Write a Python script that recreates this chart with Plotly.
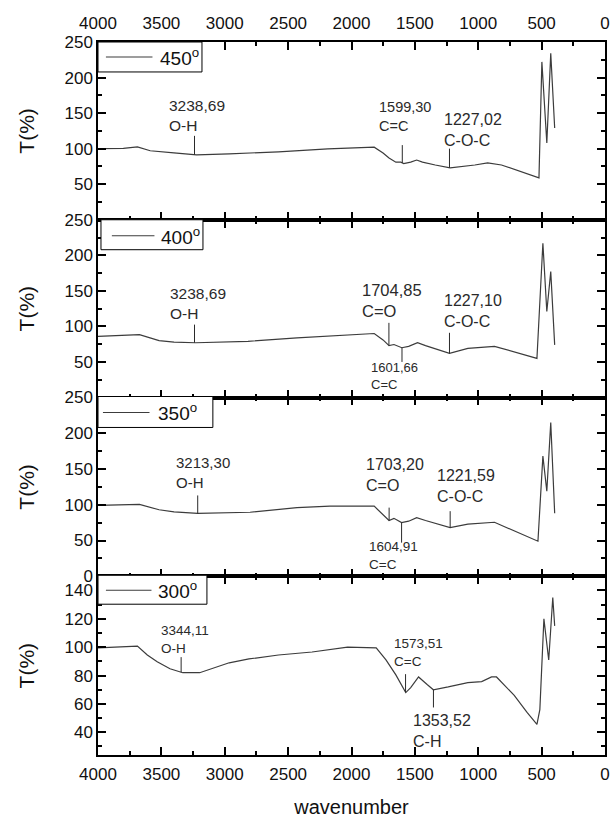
import numpy as np
import plotly.graph_objects as go

# ---------------- data ----------------
temps = ["450", "400", "350", "300"]

wn_450 = [4000, 3800, 3689, 3588, 3401, 3222, 2965, 2576, 2187, 1961, 1821, 1751, 1704, 1650,
          1611, 1588, 1533, 1486, 1440, 1339, 1222, 1027, 926, 817, 521, 498, 459, 428, 397]
t_450 = [100, 100.5, 102.5, 97, 94, 91.3, 92.7, 95.5, 99.7, 101, 102, 94, 87, 81,
         81, 79, 81, 84, 81, 77, 73, 77, 80, 77, 59, 222, 108, 234, 129]

wn_400 = [4000, 3850, 3673, 3518, 3400, 3230, 2817, 2430, 2170, 1821, 1751, 1704, 1665, 1603,
          1549, 1479, 1416, 1227, 1082, 872, 537, 490, 459, 428, 397]
t_400 = [86, 87, 88.5, 80, 78, 77, 79, 84, 87, 90, 81, 73, 74.5, 70,
         72, 77, 73, 62, 69, 72, 55, 217, 121, 177, 74]

wn_350 = [4000, 3850, 3673, 3518, 3400, 3213, 2800, 2430, 2170, 1821, 1743, 1704, 1665, 1605,
          1549, 1486, 1416, 1222, 1082, 872, 529, 490, 459, 428, 397]
t_350 = [99, 99.5, 100.5, 93, 90, 88, 89.5, 96, 98, 98, 85, 78, 81, 75,
         77, 82, 78, 68, 73, 75.5, 49, 168, 119, 215, 88]

wn_300 = [4000, 3907, 3689, 3611, 3533, 3432, 3331, 3198, 3090, 2965, 2809, 2576, 2311, 2031,
          1805, 1728, 1650, 1572, 1533, 1471, 1401, 1354, 1237, 1082, 973, 895, 856, 716, 615,
          537, 514, 482, 444, 412, 397]
t_300 = [99.5, 100, 100.8, 94.5, 89.7, 84.8, 82, 82, 85.5, 89, 91.7, 94.5, 96.6, 100,
         99.5, 91, 80.5, 68, 71.5, 79, 73.5, 70, 72, 75, 75.7, 79, 79, 66, 54,
         45.6, 56, 120, 91, 135, 115]

wavenumbers = [wn_450, wn_400, wn_350, wn_300]
transmittance = [t_450, t_400, t_350, t_300]

peak_wn = [[3238.69, 1599.30, 1227.02],
           [3238.69, 1704.85, 1601.66, 1227.10],
           [3213.30, 1703.20, 1604.91, 1221.59],
           [3344.11, 1573.51, 1353.52]]
peak_num = [["3238,69", "1599,30", "1227,02"],
            ["3238,69", "1704,85", "1601,66", "1227,10"],
            ["3213,30", "1703,20", "1604,91", "1221,59"],
            ["3344,11", "1573,51", "1353,52"]]
peak_group = [["O-H", "C=C", "C-O-C"],
              ["O-H", "C=O", "C=C", "C-O-C"],
              ["O-H", "C=O", "C=C", "C-O-C"],
              ["O-H", "C=C", "C-H"]]

x_ticks = [4000, 3500, 3000, 2500, 2000, 1500, 1000, 500, 0]

# ---------------- styling / placement ----------------
FONT = "Arial, Liberation Sans, sans-serif"
CURVE = "#3c3c3c"
TXT = "#2a2a2a"

marker_end = [[118, 105, 100], [102.5, 105, 50, 91], [113, 96, 47, 91], [93, 81, 57.5]]
label_y = [[118, 118, 97], [104, 106.7, 56, 92.7], [116, 111.7, 54.5, 96.4], [92.4, 83.4, 56]]
label_side = [["bottom", "bottom", "bottom"], ["bottom", "bottom", "top", "bottom"],
              ["bottom", "bottom", "top", "bottom"], ["bottom", "bottom", "top"]]
label_shift = [[-28, -25, -7], [-27, -29, -33, -7], [-24, -25, -35, -15], [-22, -14, -22]]
label_size = [[15.5, 14.5, 16], [15.5, 16.5, 13, 16], [15, 16, 13.5, 16], [13.5, 13.5, 16]]

domains = [[0.7507, 1.0], [0.5014, 0.7507], [0.2507, 0.5014], [0.0, 0.2507]]
y_ranges = [[0, 250], [0, 250], [0, 250], [24, 150]]
y_ticks = [[50, 100, 150, 200, 250], [50, 100, 150, 200, 250],
           [0, 50, 100, 150, 200, 250], [40, 60, 80, 100, 120, 140]]
y_minor = [25, 25, 25, 10]

M_L, M_R, M_T, M_B, W, H = 98, 6, 42, 65, 616, 821
PW, PH = W - M_L - M_R, H - M_T - M_B
leg_box = [(98, 42, 203, 72), (101, 220, 204, 250), (98, 397, 214, 428), (98, 576, 208, 605)]
leg_line = [(106, 153, 57), (112, 155, 236), (103, 150, 413), (106, 152, 591)]
leg_text_x = [159, 160, 157, 157]


def px(x):
    return (x - M_L) / PW


def py(y):
    return (H - M_B - y) / PH


fig = go.Figure()

for i in range(4):
    xa = "x" if i == 0 else f"x{i+1}"
    ya = "y" if i == 0 else f"y{i+1}"
    fig.add_trace(go.Scatter(
        x=wavenumbers[i], y=transmittance[i], mode="lines",
        name=f"{temps[i]}°", line=dict(color=CURVE, width=1.2),
        xaxis=xa, yaxis=ya, showlegend=False, hoverinfo="skip"))
    wn_sorted = np.array(wavenumbers[i])[::-1]
    t_sorted = np.array(transmittance[i])[::-1]
    for j, p in enumerate(peak_wn[i]):
        base = float(np.interp(p, wn_sorted, t_sorted))
        fig.add_shape(type="line", xref=xa, yref=ya, x0=p, x1=p, y0=base, y1=marker_end[i][j],
                      line=dict(color=TXT, width=1))
        fig.add_annotation(xref=xa, yref=ya, x=p, y=label_y[i][j],
                           text=f"{peak_num[i][j]}<br>{peak_group[i][j]}",
                           showarrow=False, xanchor="left", yanchor=label_side[i][j],
                           xshift=label_shift[i][j], yshift=0, align="left",
                           font=dict(family=FONT, size=label_size[i][j], color=TXT))
    l, t, r, b = leg_box[i]
    fig.add_shape(type="rect", xref="paper", yref="paper", x0=px(l), x1=px(r), y0=py(b), y1=py(t),
                  line=dict(color="black", width=1), fillcolor="white", layer="above")
    x0, x1, ly = leg_line[i]
    fig.add_shape(type="line", xref="paper", yref="paper", x0=px(x0), x1=px(x1), y0=py(ly), y1=py(ly),
                  line=dict(color=CURVE, width=1.2), layer="above")
    fig.add_annotation(xref="paper", yref="paper", x=px(leg_text_x[i]), y=py(ly),
                       text=f"{temps[i]}<sup>o</sup>", showarrow=False, xanchor="left",
                       yanchor="middle", font=dict(family=FONT, size=19, color="#111"))

axis_common = dict(showline=True, linecolor="black", linewidth=1.5, mirror="ticks",
                   ticks="inside", ticklen=8, tickwidth=1.5, tickcolor="black",
                   showgrid=False, zeroline=False, ticklabeloverflow="allow",
                   tickfont=dict(family=FONT, size=17, color="#111"))

layout = dict(width=W, height=H, plot_bgcolor="white", paper_bgcolor="white",
              margin=dict(l=M_L, r=M_R, t=M_T, b=M_B), font=dict(family=FONT, color="#111"))

for i in range(4):
    xkey = "xaxis" if i == 0 else f"xaxis{i+1}"
    ykey = "yaxis" if i == 0 else f"yaxis{i+1}"
    xd = dict(axis_common, range=[4000, 0], tickvals=x_ticks, domain=[0, 1],
              anchor="y" if i == 0 else f"y{i+1}",
              minor=dict(ticks="inside", ticklen=4, dtick=250, tickwidth=1.5, tickcolor="black"))
    if i == 0:
        xd.update(side="top", showticklabels=True, ticklabelstandoff=4)
    elif i == 3:
        xd.update(side="bottom", showticklabels=True, ticklabelstandoff=3,
                  title=dict(text="wavenumber", font=dict(family=FONT, size=20, color="#111"),
                             standoff=17))
    else:
        xd.update(showticklabels=False)
    yd = dict(axis_common, range=y_ranges[i], tickvals=y_ticks[i], domain=domains[i],
              anchor="x" if i == 0 else f"x{i+1}",
              minor=dict(ticks="inside", ticklen=4, dtick=y_minor[i], tickwidth=1.5,
                         tickcolor="black", tick0=0),
              title=dict(text="T(%)", font=dict(family=FONT, size=21, color="#111"),
                         standoff=24))
    layout[xkey] = xd
    layout[ykey] = yd

fig.update_layout(**layout)
fig.write_html("out.html", config={"displayModeBar": False},
               post_script="document.body.style.margin='0';document.body.style.padding='0';")
